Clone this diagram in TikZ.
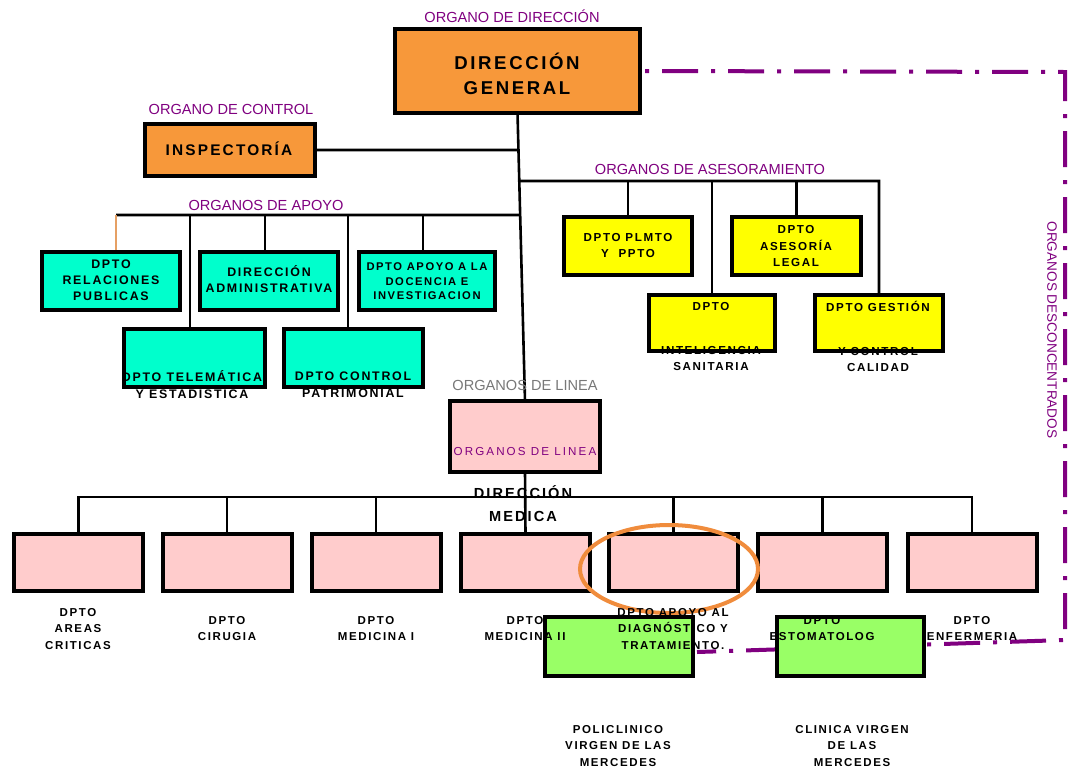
\documentclass[tikz,border=0pt]{standalone}
\usepackage{fontspec}
\setmainfont{Liberation Sans}
\newfontfamily\spfont[LetterSpace=14]{Liberation Sans}
\newfontfamily\spwide[LetterSpace=18]{Liberation Sans}
\usetikzlibrary{shapes.geometric,calc}
\pgfdeclarelayer{bg}
\pgfdeclarelayer{paper}
\pgfsetlayers{paper,bg,main}
\definecolor{orgfill}{RGB}{247,152,58}
\definecolor{teal}{RGB}{0,255,204}
\definecolor{yel}{RGB}{255,255,0}
\definecolor{pnk}{RGB}{255,204,204}
\definecolor{grn}{RGB}{153,255,102}
\definecolor{purp}{RGB}{128,0,128}
\definecolor{ringc}{RGB}{240,140,60}
\definecolor{tanc}{RGB}{230,160,100}
\definecolor{grayl}{RGB}{120,120,120}
\newcommand\fntDG{\spfont\bfseries\fontsize{18.6}{25}\selectfont}
\newcommand\fntIN{\spfont\bfseries\fontsize{15.4}{18}\selectfont}
\newcommand\fntB{\spfont\bfseries\fontsize{12.4}{16}\selectfont}
\newcommand\fntS{\spfont\bfseries\fontsize{11.2}{14.5}\selectfont}
\newcommand\fntY{\spfont\bfseries\fontsize{11.6}{16.5}\selectfont}
\newcommand\fntL{\spfont\bfseries\fontsize{11.5}{16.5}\selectfont}
\newcommand\fntLab{\fontsize{14.6}{16}\selectfont}
\begin{document}
\begin{tikzpicture}[x=1pt,y=-1pt,
  box/.style={rectangle, draw=black, line width=4pt, outer sep=0pt, inner sep=0pt},
  wire/.style={line width=2.6pt, black},
  tanwire/.style={line width=1.6pt, tanc},
  ddash/.style={line width=4pt, purp, dash pattern=on 36pt off 13pt on 4pt off 13pt, dash phase=44pt},
  bt/.style={align=center, inner sep=0pt, text=black},
  lab/.style={inner sep=0pt, text=purp, font=\fntLab},
]
\begin{pgfonlayer}{paper}
\fill[white] (0,0) rectangle (1070,769);
\end{pgfonlayer}
\useasboundingbox (0,0) rectangle (1070,769);

% ---------- boxes ----------
\node[box, fill=orgfill, minimum width=245pt, minimum height=84pt] (dg) at (517.5,71) {};
\node[box, fill=orgfill, minimum width=170pt, minimum height=52pt] (insp) at (230,150) {};
\node[box, fill=teal, minimum width=138pt, minimum height=58pt] (rel) at (111,281) {};
\node[box, fill=teal, minimum width=138pt, minimum height=58pt] (adm) at (269,281) {};
\node[box, fill=teal, minimum width=136pt, minimum height=58pt] (doc) at (427,281) {};
\node[box, fill=teal, minimum width=141pt, minimum height=58pt] (tel) at (194.5,358) {};
\node[box, fill=teal, minimum width=139pt, minimum height=58pt] (ctl) at (353.5,358) {};
\node[box, fill=yel, minimum width=128pt, minimum height=58pt] (plm) at (628,246) {};
\node[box, fill=yel, minimum width=129pt, minimum height=58pt] (ase) at (796.5,246) {};
\node[box, fill=yel, minimum width=126pt, minimum height=56pt] (int) at (712,323) {};
\node[box, fill=yel, minimum width=128pt, minimum height=56pt] (ges) at (879,323) {};
\node[box, fill=pnk, minimum width=150pt, minimum height=71pt] (lin) at (525,436.5) {};
\node[box, fill=pnk, minimum width=129pt, minimum height=57pt] (m1) at (78.5,562.5) {};
\node[box, fill=pnk, minimum width=129pt, minimum height=57pt] (m2) at (227,562.5) {};
\node[box, fill=pnk, minimum width=129pt, minimum height=57pt] (m3) at (376,562.5) {};
\node[box, fill=pnk, minimum width=129pt, minimum height=57pt] (m4) at (525.5,562.5) {};
\node[box, fill=pnk, minimum width=129pt, minimum height=57pt] (m5) at (673.5,562.5) {};
\node[box, fill=pnk, minimum width=129pt, minimum height=57pt] (m6) at (822.5,562.5) {};
\node[box, fill=pnk, minimum width=129pt, minimum height=57pt] (m7) at (972,562.5) {};

% ---------- coordinates for connectors ----------
\coordinate (iI) at (insp.east -| lin.north);
\coordinate (tI) at (intersection of dg.south--lin.north and insp.east--iI);
\coordinate (aR) at (879,181);
\coordinate (aA) at (aR -| lin.north);
\coordinate (tA) at (intersection of dg.south--lin.north and aR--aA);
\coordinate (pL) at (116,215);
\coordinate (pA) at (pL -| lin.north);
\coordinate (tP) at (intersection of dg.south--lin.north and pL--pA);
\coordinate (dTel) at (190,215);
\coordinate (dAdm) at (265,215);
\coordinate (dCtl) at (348,215);
\coordinate (dDoc) at (423,215);
\coordinate (lb) at (78.5,497);
\coordinate (cTR) at (1065,72);
\coordinate (cBR) at (1065,640);
\coordinate (dEnd) at (697,652);

% ---------- connectors (under boxes) ----------
\begin{pgfonlayer}{bg}
\draw[wire] (dg.south) -- (lin.north);
\draw[wire] (insp.east) -- (tI);
\draw[wire] (tA) -- (aR) -- (ges.north);
\draw[wire] (plm.north) -- (plm.north |- aR);
\draw[wire] (int.north) -- (int.north |- aR);
\draw[wire] (ase.north) -- (ase.north |- aR);
\draw[wire] (pL) -- (tP);
\draw[tanwire] (pL) -- (pL |- rel.north);
\draw[wire] (dTel) -- (dTel |- tel.north);
\draw[wire] (dAdm) -- (dAdm |- adm.north);
\draw[wire] (dCtl) -- (dCtl |- ctl.north);
\draw[wire] (dDoc) -- (dDoc |- doc.north);
\draw[wire] (lin.south) -- (m4.north);
\draw[wire] (m1.north) -- (lb) -| (m7.north);
\foreach \m in {m2,m3,m5,m6} \draw[wire] (\m.north) -- (\m.north |- lb);
\draw[ddash] (dg.east) -- (cTR) -- (cBR) -- (dEnd);
\end{pgfonlayer}

\node[ellipse, draw=ringc, line width=4pt, minimum width=178pt, minimum height=88pt, inner sep=0pt] (hl) at (669,569) {};

\node[box, fill=grn, minimum width=148pt, minimum height=59pt] (pol) at (619,646.5) {};
\node[box, fill=grn, minimum width=147pt, minimum height=59pt] (cli) at (850.5,646.5) {};

% ---------- purple / gray labels ----------
\node[lab] (lDir) at (512,16) {ORGANO DE DIRECCIÓN};
\node[lab] (lCon) at (231,109) {ORGANO DE CONTROL};
\node[lab] (lApo) at (266,205) {ORGANOS DE APOYO};
\node[lab] (lAse) at (710,169) {ORGANOS DE ASESORAMIENTO};
\node[lab, text=grayl] (lLin) at (525,385) {ORGANOS DE LINEA};
\node[lab, rotate=-90, font=\fontsize{13.6}{15}\selectfont] (lDes) at (1052,330) {ORGANOS DESCONCENTRADOS};
\node[inner sep=0pt, text=purp, font=\spwide\fontsize{11.6}{14}\selectfont] (tLin) at (525,451) {ORGANOS DE LINEA};

% ---------- box texts ----------
\node[bt, font=\fntDG] (tDG) at (517,74) {DIRECCIÓN\\GENERAL};
\node[bt, font=\fntIN] (tIN) at (229,149) {INSPECTORÍA};
\node[bt, font=\fntB] (tRel) at (111,280) {DPTO\\RELACIONES\\PUBLICAS};
\node[bt, font=\fntB] (tAdm) at (269,279.5) {DIRECCIÓN\\ADMINISTRATIVA};
\node[bt, font=\fntS] (tDoc) at (427,281.5) {DPTO APOYO A LA\\DOCENCIA E\\INVESTIGACION};
\node[bt, font=\fntB] (tTel) at (192,384.5) {DPTO TELEMÁTICA\\[1pt]Y ESTADÍSTICA};
\node[bt, font=\fntB] (tCtl) at (353,384.5) {DPTO CONTROL\\[1pt]PATRIMONIAL};
\node[bt, font=\fntY] (tPlm) at (628,245.5) {DPTO PLMTO\\Y~~PPTO};
\node[bt, font=\fntY] (tAse) at (796,246) {DPTO\\ASESORÍA\\LEGAL};
\node[bt, font=\fntY] (tInt) at (711,336.5) {DPTO\\[27pt]INTELIGENCIA\\SANITARIA};
\node[bt, font=\fntY] (tGes) at (878,336.5) {DPTO GESTIÓN\\[27pt]Y CONTROL\\CALIDAD};
\node[bt, font=\spfont\bfseries\fontsize{14.6}{23}\selectfont] (tMed) at (523,503.5) {DIRECCIÓN\\MEDICA};

% box borders that cover part of the texts
\draw[line width=4pt] (tel.south west) -- (tel.south east);
\draw[line width=4pt] (ctl.south west) -- (ctl.south east);
\draw[line width=4pt] (int.south west) -- (int.south east);
\draw[line width=4pt] (ges.south west) -- (ges.south east);

\node[bt, font=\fntL] (t1) at (78,629) {DPTO\\AREAS\\CRITICAS};
\node[bt, font=\fntL] (t2) at (227,628.5) {DPTO\\CIRUGIA};
\node[bt, font=\fntL] (t3) at (376,628.5) {DPTO\\MEDICINA I};
\node[bt, font=\fntL] (t4) at (525,628.5) {DPTO\\MEDICINA II};
\node[bt, font=\fntL] (t5) at (673,629) {DPTO APOYO AL\\DIAGNÓSTICO Y\\TRATAMIENTO.};
\node[bt, font=\fntL] (t6) at (822,628.5) {DPTO\\ESTOMATOLOG};
\node[bt, font=\fntL] (t7) at (972,628.5) {DPTO\\ENFERMERIA};
\node[bt, font=\fntL] (tPol) at (618,746) {POLICLINICO\\VIRGEN DE LAS\\MERCEDES};
\node[bt, font=\fntL] (tCli) at (852,746) {CLINICA VIRGEN\\DE LAS\\MERCEDES};
\end{tikzpicture}
\end{document}
